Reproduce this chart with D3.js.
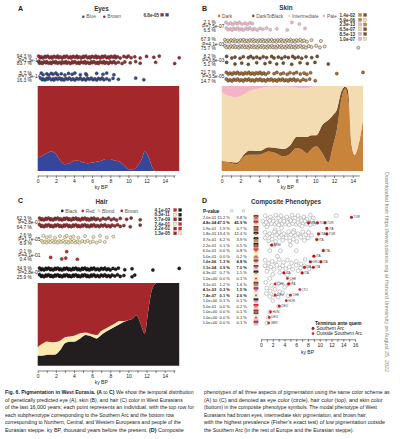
<!DOCTYPE html>
<html><head><meta charset="utf-8">
<script src="https://cdn.jsdelivr.net/npm/d3@7"></script>
<style>body{margin:0;background:#fff}svg{font-family:"Liberation Sans",Arial,sans-serif;display:block}</style>
</head><body><svg id="c" width="400" height="439"></svg>
<script>
// ---------------- DATA ----------------
const kyTicks = d3.range(0, 16);
const kyTicksD = d3.range(0, 17);
// Eyes
const eyeCats = ["Blue", "Brown"];
const eyeKy = [0,0.5,1,1.5,2,2.5,3,3.5,4,4.5,5,5.5,6,6.5,7,7.5,8,8.5,9,9.5,10,10.5,11,11.5,11.8,12.2,12.6,13,14,15,15.6];
const eyeBlue = [0.16,0.18,0.21,0.23,0.20,0.12,0.08,0.09,0.12,0.12,0.10,0.09,0.10,0.11,0.12,0.14,0.14,0.12,0.11,0.07,0.02,0.02,0.06,0.15,0.23,0.17,0.05,0,0,0,0];
const brownEyeSA = [0.1,0.3,0.4,0.6,0.8,0.9,1.1,1.3,1.5,1.6,1.8,2.0,2.2,2.3,2.5,2.7,2.9,3.0,3.2,3.4,3.6,3.7,3.9,4.1,4.3,4.4,4.6,4.8,5.0,5.1,5.3,5.5,5.7,5.8,6.0,6.2,6.4,6.5,6.7,6.9,7.1,7.2,7.4,7.6,7.8,7.9,8.1,8.3,8.5,8.6,8.8,9.1,9.5,9.8,10.0,10.3,10.7,11.3,12.0,12.8,13.4,15.6];
const brownEyeNS = [0.1,0.2,0.4,0.5,0.7,0.9,1.0,1.2,1.4,1.5,1.7,1.9,2.0,2.2,2.4,2.6,2.7,2.9,3.1,3.2,3.4,3.6,3.8,3.9,4.1,4.3,4.5,4.6,4.8,5.0,5.2,5.3,5.5,5.7,5.9,6.0,6.2,6.4,6.6,6.7,6.9,7.1,7.3,7.4,7.6,7.8,8.0,8.2,8.4,8.6,8.9,9.3,9.6,10.2,10.8,11.3,13.0,15.1];
const blueEyeSA = [0.4,0.6,1.0,1.2,1.5,1.7,2.0,2.2,2.6,3.0,3.4,3.8,4.1,4.7,5.3,5.4,6.5,7.2,7.6,8.4];
const blueEyeNS = [0.3,0.5,0.6,0.8,1.0,1.1,1.3,1.5,1.7,1.8,2.0,2.2,2.4,2.6,2.7,2.9,3.1,3.3,3.5,3.7,3.9,4.1,4.3,4.5,4.7,4.9,5.1,5.3,5.5,5.7,5.9,6.1,6.3,6.5,6.7,6.9,7.1,7.3,7.6,7.9,8.3,8.9,10.8,11.7];
const eyeLabels = [["94.3 %","P=7.3e-14","83.7 %"],["5.7 %","P=7.3e-14","16.3 %"]];
const eyePvals = ["6.8e-05"];
const eyePairs = [["Brown","Blue"]];
// Skin
const skinCats = ["Dark","DarkToBlack","Intermediate","Pale"];
const skinKy = [0,0.8,1.6,2.5,3,4,5,5.8,6.6,7.3,8,8.6,9.1,9.6,10.1,10.8,11.4,11.9,12.3,12.8,13.2,13.5,13.9,14.2,14.7,15.1];
const skinDark = [0.12,0.10,0.08,0.18,0.19,0.19,0.23,0.21,0.17,0.20,0.27,0.25,0.21,0.26,0.29,0.20,0.10,0.30,0.48,0.85,0.97,0.85,0.30,0.19,0.35,0.60];
const skinDTB = [0.005,0.01,0.02,0.03,0.05,0.045,0.05,0.06,0.09,0.10,0.13,0.15,0.19,0.16,0.13,0.35,0.50,0.36,0.24,0.09,0.02,0.10,0,0,0,0];
const skinPale = [0.07,0.12,0.13,0.09,0.06,0.03,0.01,0.01,0.01,0.01,0.02,0.03,0.03,0.01,0,0,0,0,0,0,0,0,0,0,0,0];
const paleSA = [0.46,0.71,0.96,1.18,1.42,1.67,1.88,2.17,2.49,2.74,3.02,3.27,7.5,8.3];
const paleNS = [0.5,0.7,0.9,1.1,1.3,1.5,1.7,1.9,2.1,2.3,2.6,2.8,3.0,3.3,3.5,3.8,4.1,4.4,4.8,5.2,5.9,7.0,8.9];
const interSA = [0.35,0.5,0.7,0.85,1.0,1.2,1.35,1.5,1.7,1.85,2.0,2.2,2.35,2.5,2.7,2.85,3.0,3.2,3.35,3.5,3.7,3.85,4.0,4.2,4.35,4.5,4.7,4.85,5.0,5.2,5.35,5.5,5.7,5.85,6.0,6.2,6.35,6.5,6.7,6.85,7.0,7.2,7.35,7.5,7.7,7.85,8.0,8.2,8.4,8.6,8.8,9.1,9.6,10.6];
const interNS = [0.35,0.5,0.7,0.85,1.0,1.2,1.35,1.5,1.7,1.85,2.0,2.2,2.35,2.5,2.7,2.85,3.0,3.2,3.35,3.5,3.7,3.85,4.0,4.2,4.35,4.5,4.7,4.85,5.0,5.2,5.35,5.5,5.7,5.85,6.0,6.2,6.35,6.5,6.7,6.85,7.0,7.2,7.35,7.5,7.7,7.85,8.0,8.2,8.4,8.6,8.8,9.0,9.3,9.6,10.1,10.5,11.0,14.6];
const dtbSA = [0.53,1.07,1.42,1.96,2.31,2.84,3.10,3.38,3.74,4.09,4.44,4.80,5.34,5.59,6.05,6.41,6.76,7.12,7.59,7.83,8.18,8.55,9.01,9.62,10.21];
const dtbNS = [0.53,1.42,2.14,2.84,3.74,4.63,5.16,5.88,6.58,7.48,8.37,9.15,9.97,11.39];
const darkSA = [0.5,0.7,0.9,1.1,1.3,1.5,1.7,1.9,2.1,2.3,2.5,2.7,2.9,3.1,3.3,3.5,3.7,3.9,4.1,4.3,4.5,4.7,5.0,5.6,5.9,6.3,6.6,7.0,7.3,7.7,8.0,8.4,8.8,9.1,9.5,12.3,15.1];
const darkNS = [0.5,0.7,0.9,1.1,1.3,1.5,1.7,1.9,2.1,2.3,2.5,2.7,2.9,3.1,3.3,3.5,3.7,3.9,4.1,4.3,4.5,4.7,4.9,5.1,5.3,5.5,5.7,5.9,6.1,6.3,6.5,6.7,6.9,7.1,7.3,7.5,7.7,7.9,8.1,8.4,8.7,9.0,9.4,10.0];
const skinLabels = [["2.1 %","P=7.5e-07","6.5 %"],["67.9 %","P=4.1e-03","75.7 %"],["8.2 %","P=3.8e-03","5.1 %"],["21.7 %","P=3.5e-05","14.7 %"]];
const skinPvals = ["1.4e-02","5.9e-06","2.3e-13","6.5e-07","8.5e-13","1.0e-07"];
const skinPairs = [["Dark","DarkToBlack"],["Dark","Intermediate"],["Pale","Dark"],["Intermediate","DarkToBlack"],["Pale","DarkToBlack"],["Pale","Intermediate"]];
// Hair
const hairCats = ["Black","Red","Blond","Brown"];
const hairKy = [0,0.5,1,1.8,2.5,3,3.5,4,4.7,5.3,6,6.5,7,7.5,8,8.5,9,9.5,10,10.5,10.9,11.3,11.8,12.2,12.6,13.1,14,15,15.6];
const hairBlack = [0.12,0.12,0.13,0.13,0.19,0.27,0.29,0.29,0.33,0.37,0.35,0.33,0.37,0.41,0.44,0.47,0.50,0.53,0.55,0.57,0.61,0.52,0.39,0.67,0.92,1,1,1,1];
const hairRed = [0.004,0.004,0.004,0.004,0.004,0.004,0.004,0.003,0.002,0,0,0,0,0,0,0,0,0,0,0,0,0,0,0,0,0,0,0,0];
const hairBlond = [0.10,0.14,0.16,0.15,0.11,0.07,0.06,0.07,0.06,0.03,0.03,0.04,0.05,0.04,0.04,0.04,0.04,0.01,0,0,0,0,0,0,0,0,0,0,0];
const brownHairSA = [0.2,0.4,0.5,0.7,0.9,1.0,1.2,1.4,1.5,1.7,1.9,2.0,2.2,2.4,2.5,2.7,2.9,3.0,3.2,3.4,3.5,3.7,3.9,4.0,4.2,4.4,4.5,4.7,4.9,5.0,5.2,5.4,5.5,5.7,5.9,6.0,6.2,6.4,6.6,6.9,7.2,7.5,7.8,8.1,8.4,8.7,9.1,9.8,10.3,11.3];
const brownHairNS = [0.2,0.4,0.5,0.7,0.9,1.0,1.2,1.4,1.5,1.7,1.9,2.0,2.2,2.4,2.5,2.7,2.9,3.0,3.2,3.4,3.5,3.7,3.9,4.0,4.2,4.4,4.5,4.7,4.9,5.0,5.2,5.4,5.5,5.7,5.9,6.0,6.2,6.4,6.6,6.8,7.0,7.2,7.4,7.6,7.8,8.0,8.2,8.5,8.8,9.1,9.5,10.2,11.3];
const blondSA = [0.62,0.99,1.36,1.91,2.46,3.01,3.20,3.64,3.92,4.48,5.22,6.13,6.87,7.61,8.34];
const blondNS = [0.44,0.6,0.8,1.0,1.2,1.4,1.6,1.8,2.0,2.2,2.4,2.6,2.8,3.0,3.2,3.4,3.6,3.8,4.0,4.2,4.4,4.6,4.9,5.2,5.5,5.8,6.1,6.5,6.87,7.4];
const redSA = [3.2];
const redNS = [1.43,2.65,3.09,4.37];
const blackSA = [0.2,0.4,0.5,0.7,0.9,1.0,1.2,1.4,1.5,1.7,1.9,2.0,2.2,2.4,2.5,2.7,2.9,3.0,3.2,3.4,3.5,3.7,3.9,4.0,4.2,4.4,4.5,4.7,4.9,5.0,5.2,5.4,5.5,5.7,5.9,6.0,6.2,6.4,6.6,6.8,7.0,7.2,7.4,7.6,7.8,8.0,8.3,8.6,8.9,9.6,10.4,12.7,15.6];
const blackNS = [0.2,0.4,0.5,0.7,0.9,1.0,1.2,1.4,1.5,1.7,1.9,2.0,2.2,2.4,2.5,2.7,2.9,3.0,3.2,3.4,3.5,3.7,3.9,4.0,4.2,4.4,4.5,4.7,4.9,5.0,5.2,5.4,5.5,5.7,5.9,6.0,6.2,6.4,6.6,6.8,7.0,7.2,7.4,7.6,7.8,8.0,8.2,8.5,8.8,9.1,9.5,10.4,10.7];
const hairLabels = [["62.3 %","P=2.8e-01","64.7 %"],["2.6 %","P=1.7e-05","8.9 %"],["0.1 %","P=4.1e-01","0.4 %"],["34.9 %","P=2.8e-05","25.9 %"]];
const hairPvals = ["4.1e-02","6.3e-11","5.7e-09","7.4e-01","2.2e-01","1.3e-05"];
const hairPairs = [["Red","Black"],["Blond","Black"],["Brown","Black"],["Blond","Red"],["Brown","Red"],["Brown","Blond"]];
// Composite phenotypes
const compP = ["2.0e-01","4.8e-04","1.9e-01","1.8e-01","3.7e-01","2.2e-01","6.5e-01","5.0e-01","1.0e-06","1.1e-04","6.3e-02","1.0e+00","3.1e-01","4.1e-03","7.4e-07","1.0e+00","5.0e-01","1.0e+00","1.0e+00","1.0e+00"];
const compSA = ["15.2 %","47.5 %","1.9 %","13.4 %","6.2 %","0.1 %","0.0 %","0.0 %","1.3 %","3.9 %","0.7 %","0.0 %","1.2 %","0.3 %","0.1 %","0.1 %","0.0 %","0.0 %","0.0 %","0.0 %"];
const compNS = ["9.8 %","45.9 %","0.7 %","12.4 %","3.9 %","0.5 %","0.8 %","0.2 %","4.8 %","7.0 %","1.5 %","0.1 %","1.6 %","1.5 %","2.6 %","0.1 %","0.2 %","0.1 %","0.1 %","0.1 %"];
const compHair = ["Brown","Brown","Brown","Black","Black","Black","Red","Blond","Brown","Brown","Black","Blond","Brown","Brown","Blond","Black","Red","Brown","Blond","Brown"];
const compSkin = ["Dark","Intermediate","DarkToBlack","Intermediate","Dark","DarkToBlack","Intermediate","Dark","Intermediate","Pale","Intermediate","Intermediate","Dark","Pale","Intermediate","Pale","Pale","DarkToBlack","Pale","Pale"];
const compEye = ["Brown","Brown","Brown","Brown","Brown","Brown","Brown","Brown","Blue","Brown","Blue","Brown","Blue","Blue","Blue","Blue","Brown","Blue","Brown","Blue"];
const compCircles = [
  [0.7,1.2,1.6,2.0,2.5,3.0,3.4,3.9,4.4,4.9,5.3,5.8,6.3,6.8,7.3,7.8,8.4,8.9,12.8],
  [0.3,0.6,0.9,1.2,1.5,1.8,2.1,2.4,2.7,3.0,3.3,3.6,3.9,4.2,4.5,4.8,5.1,5.4,5.7,6.0,6.3,6.6,6.9,7.2,7.5,7.8,8.1,8.4,8.7,9.0],
  [1.0,2.4,3.5,5.6,7.0],
  [0.7,1.1,1.5,1.9,2.3,2.7,3.1,3.5,3.9,4.3,4.7,5.1,5.5,5.9,6.3,6.7,7.1,7.6,8.1,8.6],
  [0.7,1.3,1.9,2.5,3.1,3.7,4.3,4.9,5.5,6.1,6.8,7.4,8.0],
  [2.2,5.0],
  [1.5,3.3,6.0],
  [2.8],
  [0.7,1.3,1.9,2.5,3.1,3.8,4.5,5.2,6.0,6.8,7.5],
  [0.7,1.2,1.7,2.2,2.7,3.2,3.7,4.2,4.8,5.4,6.0,6.7,7.4,8.2],
  [1.0,2.0,3.2,4.5,6.3],
  [1.5],
  [0.8,1.8,3.0,4.2,5.1],
  [1.0,1.6,2.4,3.2,4.0],
  [0.9,1.5,2.2,2.9,3.7,4.6],
  [2.0],[3.0],[1.5],[1.2],[1.0]
];
const tqRow = [0,1,1,1,2,3,3,4,5,6,7,8,8,9,9,10,10,11,12,12,13,14,14,15,16,17,18,19];
const tqKy  = [15.4,8.1,9.6,10.9,11.2,9.8,11.2,9.5,1.8,10.6,9.0,8.4,10.2,7.4,8.9,3.9,7.0,4.5,2.4,4.7,6.6,5.0,2.4,4.3,3.1,1.6,1.4,1.3];
const tqLab = ["TUR","ITA","TUR","TUR","ITA","ITA","TUR","ITA","ARM","ITA","ITA","GRC","ITA","ITA","ITA","ITA","ITA","CHE","CHE","ITA","LTU","CHE","DEU","HUN","DEU","HUN","DEU","GBR"];
const tqSA  = [1,1,1,1,1,1,1,1,1,1,1,1,1,1,1,1,1,0,0,1,0,0,0,0,0,0,0,0];

// ---------------- COLOURS ----------------
const col = {
  eye: {Blue:"#36479b", Brown:"#a4282b"},
  skin: {Dark:"#c8843a", DarkToBlack:"#7b4f26", Intermediate:"#f3dcb2", Pale:"#f3b4c7"},
  hair: {Black:"#221e1f", Red:"#e2231a", Blond:"#f8eab0", Brown:"#a4282b"}
};
const dotStroke = {Pale:"#999", Intermediate:"#333", Blond:"#666"};

// ---------------- HELPERS ----------------
const svg = d3.select("#c");
function txt(g, x, y, s, o = {}) {
  return g.append("text").attr("x", x).attr("y", y).text(s)
    .attr("font-size", o.size || 5)
    .attr("font-weight", o.bold ? "bold" : null)
    .attr("text-anchor", o.anchor || "start")
    .attr("fill", o.fill || "#222");
}
const jit = [-0.9, 0.7, -0.2, 1.0, -0.6, 0.3];
function dots(g, arr, x, y, fill, stroke) {
  g.append("g").selectAll("circle").data(arr).join("circle")
    .attr("cx", d => x(d)).attr("cy", (d, i) => y + jit[i % jit.length])
    .attr("r", 1.55).attr("fill", fill).attr("stroke", stroke || "#333").attr("stroke-width", 0.45);
}
function group(g, x, ySA, yNS, labels, arrSA, arrNS, fill, stroke) {
  const x0 = x(0);
  txt(g, x0 - 6, ySA + 0.5, labels[0], {anchor: "end", size: 4.8});
  txt(g, x0 - 19.5, (ySA + yNS) / 2 + 1.8, labels[1], {size: 4.8});
  txt(g, x0 - 6, yNS + 2.8, labels[2], {anchor: "end", size: 4.8});
  dots(g, arrSA, x, ySA, fill, stroke);
  dots(g, arrNS, x, yNS, fill, stroke);
}
function stackArea(g, ky, cats, series, colors, x, y0, y1) {
  const data = ky.map((k, i) => {
    const o = {ky: k};
    cats.forEach(c => o[c] = series[c][i]);
    return o;
  });
  const y = d3.scaleLinear().domain([0, 1]).range([y0, y1]);
  const st = d3.stack().keys(cats)(data);
  const ar = d3.area().x(d => x(d.data.ky)).y0(d => y(d[0])).y1(d => y(d[1])).curve(d3.curveMonotoneX);
  g.append("g").selectAll("path").data(st).join("path").attr("d", ar).attr("fill", d => colors[d.key]);
}
function axis(g, x, maxKy, yAx, ticks) {
  const xa = x.copy().domain([0, maxKy]).range([x(0), x(maxKy)]);
  const a = g.append("g").attr("transform", `translate(0,${yAx})`)
    .call(d3.axisBottom(xa).tickValues(ticks.filter(t => t <= maxKy)).tickSizeInner(2.5).tickSizeOuter(0).tickPadding(1.5)
      .tickFormat(d => d % 2 === 0 ? d : ""));
  a.select(".domain").attr("stroke", "#333").attr("stroke-width", 0.6);
  a.selectAll(".tick line").attr("stroke", "#333").attr("stroke-width", 0.6);
  a.selectAll("text").attr("font-size", 5).attr("fill", "#222").attr("font-family", "Liberation Sans, Arial, sans-serif");
  return a;
}
function legend(g, items, colors, y, xs, strokes) {
  items.forEach((c, i) => {
    g.append("circle").attr("cx", xs[i]).attr("cy", y - 1.6).attr("r", 1.3).attr("fill", colors[c])
      .attr("stroke", (strokes && strokes[c]) || "none").attr("stroke-width", 0.3);
    txt(g, xs[i] + 3, y, c, {size: 4.8, fill: "#555"});
  });
}
function pvalBox(g, pvals, pairs, colors, x, ys, sqx) {
  pvals.forEach((p, i) => {
    txt(g, x, ys[i] + 1.7, p, {size: 4.6, bold: true, fill: "#333"});
    pairs[i].forEach((c, j) => {
      g.append("rect").attr("x", sqx + j * 5).attr("y", ys[i] - 1.6).attr("width", 3.2).attr("height", 3.2)
        .attr("fill", colors[c]).attr("stroke", "#777").attr("stroke-width", 0.25);
    });
  });
}

// ---------------- PANEL A: Eyes ----------------
const gA = svg.append("g");
const xA = d3.scaleLinear().domain([0, 14]).range([37.7, 164.7]);
txt(gA, 18, 10.5, "A", {size: 7, bold: true});
txt(gA, 101.5, 11, "Eyes", {size: 6.3, bold: true, anchor: "middle", fill: "#333"});
legend(gA, eyeCats, col.eye, 18.3, [83.3, 104.3]);
pvalBox(gA, eyePvals, eyePairs, col.eye, 143.5, [14.8], 160.5);
group(gA, xA, 57, 62.5, eyeLabels[0], brownEyeSA, brownEyeNS, col.eye.Brown);
group(gA, xA, 74, 79, eyeLabels[1], blueEyeSA, blueEyeNS, col.eye.Blue);
stackArea(gA, eyeKy, eyeCats, {Blue: eyeBlue, Brown: eyeBlue.map(v => 1 - v)}, col.eye, xA, 171, 86);
axis(gA, xA, 15.1, 175.5, kyTicks);
txt(gA, xA(7), 189, "ky BP", {size: 5, anchor: "middle"});

// ---------------- PANEL B: Skin ----------------
const gB = svg.append("g");
const xB = d3.scaleLinear().domain([0, 14]).range([221.7, 352.7]);
txt(gB, 202, 10.5, "B", {size: 7, bold: true});
txt(gB, 286, 10, "Skin", {size: 6.3, bold: true, anchor: "middle", fill: "#333"});
legend(gB, skinCats, col.skin, 17.5, [219, 253.3, 289, 324]);
pvalBox(gB, skinPvals, skinPairs, col.skin, 339.5, [15, 19.8, 24.5, 29.2, 34, 38.8], 358.5);
group(gB, xB, 23.3, 29, skinLabels[0], paleSA, paleNS, col.skin.Pale, dotStroke.Pale);
group(gB, xB, 40.7, 46.7, skinLabels[1], interSA, interNS, col.skin.Intermediate, dotStroke.Intermediate);
group(gB, xB, 57.3, 63.3, skinLabels[2], dtbSA, dtbNS, col.skin.DarkToBlack);
group(gB, xB, 73.3, 80, skinLabels[3], darkSA, darkNS, "#b06f2c");
const skinInter = skinKy.map((k, i) => 1 - skinDark[i] - skinDTB[i] - skinPale[i]);
stackArea(gB, skinKy, skinCats, {Dark: skinDark, DarkToBlack: skinDTB, Intermediate: skinInter, Pale: skinPale}, col.skin, xB, 171, 86);
axis(gB, xB, 14.7, 175.5, kyTicks);
txt(gB, xB(7), 189, "ky BP", {size: 5, anchor: "middle"});

// ---------------- PANEL C: Hair ----------------
const gC = svg.append("g");
const xC = d3.scaleLinear().domain([0, 14]).range([37.7, 164.7]);
txt(gC, 18, 202.5, "C", {size: 7, bold: true});
txt(gC, 101.5, 204, "Hair", {size: 6.3, bold: true, anchor: "middle", fill: "#333"});
legend(gC, hairCats, col.hair, 212.5, [62.3, 82.7, 99, 121.7], {Blond: "#999"});
pvalBox(gC, hairPvals, hairPairs, col.hair, 154.5, [210, 214.7, 219.3, 224, 228.6, 233.3], 173.5);
group(gC, xC, 219, 225.7, hairLabels[0], brownHairSA, brownHairNS, col.hair.Brown);
group(gC, xC, 236.7, 241.7, hairLabels[1], blondSA, blondNS, col.hair.Blond, dotStroke.Blond);
group(gC, xC, 252.5, 258.3, hairLabels[2], redSA, redNS, col.hair.Red);
group(gC, xC, 269, 275.7, hairLabels[3], blackSA, blackNS, col.hair.Black, "#000");
const hairBrown = hairKy.map((k, i) => 1 - hairBlack[i] - hairRed[i] - hairBlond[i]);
stackArea(gC, hairKy, hairCats, {Black: hairBlack, Red: hairRed, Blond: hairBlond, Brown: hairBrown}, col.hair, xC, 365.7, 283);
axis(gC, xC, 15.1, 370.5, kyTicks);
txt(gC, xC(7), 384, "ky BP", {size: 5, anchor: "middle"});

// ---------------- PANEL D: Composite ----------------
const gD = svg.append("g");
const xD = d3.scaleLinear().domain([0, 16]).range([261, 355]);
const rowY = i => 217.3 + i * 5.56;
txt(gD, 202, 202.5, "D", {size: 7, bold: true});
txt(gD, 286, 204, "Composite Phenotypes", {size: 6.3, bold: true, anchor: "middle", fill: "#333"});
txt(gD, 203, 212.5, "P-value", {size: 4.6, bold: true});
[231.7, 243.3].forEach(cx => gD.append("circle").attr("cx", cx).attr("cy", 210.8).attr("r", 1.3).attr("fill", "#fff").attr("stroke", "#888").attr("stroke-width", 0.5));
compP.forEach((p, i) => {
  const b = +p < 0.01;
  const y = rowY(i) + 1.5;
  txt(gD, 202.7, y, p, {size: 4.0, bold: b});
  txt(gD, 229.8, y, compSA[i], {size: 4.0, bold: b, anchor: "end"});
  txt(gD, 246.8, y, compNS[i], {size: 4.0, bold: b, anchor: "end"});
  const s = gD.append("g").attr("transform", `translate(256,${rowY(i)})`);
  s.append("rect").attr("x", -2.4).attr("y", -2.4).attr("width", 4.8).attr("height", 2.4).attr("fill", col.hair[compHair[i]]);
  s.append("rect").attr("x", -2.4).attr("y", 0).attr("width", 4.8).attr("height", 2.4).attr("fill", col.skin[compSkin[i]]);
  s.append("circle").attr("r", 1.0).attr("fill", col.eye[compEye[i]]).attr("stroke", "#fff").attr("stroke-width", 0.3);
});
// scatter of individuals
const cj = [-1.6, 1.4, -0.3, 2.0, -2.2, 0.8];
compCircles.forEach((arr, r) => {
  gD.append("g").selectAll("circle").data(arr).join("circle")
    .attr("cx", d => xD(d)).attr("cy", (d, i) => rowY(r) + (arr.length > 3 ? cj[i % cj.length] : 0))
    .attr("r", 1.9).attr("fill", "#fff").attr("stroke", "#888").attr("stroke-width", 0.45);
});
const tq = tqRow.map((r, i) => ({r, ky: tqKy[i], lab: tqLab[i], sa: tqSA[i]}));
const tqG = gD.append("g");
tqG.selectAll("circle").data(tq).join("circle")
  .attr("cx", d => xD(d.ky)).attr("cy", d => rowY(d.r)).attr("r", 1.4)
  .attr("fill", d => d.sa ? "#c3161c" : "#d9232a").attr("stroke", d => d.sa ? "#700" : "none").attr("stroke-width", 0.3);
tqG.selectAll("text").data(tq).join("text")
  .attr("x", d => xD(d.ky) + 2.0).attr("y", d => rowY(d.r) + 1.1).text(d => d.lab)
  .attr("font-size", 3.2).attr("fill", "#444");
axis(gD, xD, 16, 339.3, kyTicksD);
txt(gD, 307.5, 353.5, "ky BP", {size: 5, anchor: "middle"});
// legend
txt(gD, 315, 324.5, "Terminus ante quem", {size: 4.8, bold: true});
gD.append("circle").attr("cx", 313).attr("cy", 328.4).attr("r", 1.3).attr("fill", "#c3161c").attr("stroke", "#700").attr("stroke-width", 0.3);
txt(gD, 316.5, 330.2, "Southern Arc", {size: 4.8});
gD.append("circle").attr("cx", 313).attr("cy", 333.6).attr("r", 1.3).attr("fill", "#d9232a");
txt(gD, 316.5, 335.4, "Outside Southern Arc", {size: 4.8});

// ---------------- side note & caption ----------------
svg.append("text").attr("transform", "translate(385,172) rotate(90)")
  .text("Downloaded from https://www.science.org at Harvard University on August 25, 2022")
  .attr("font-size", 5).attr("fill", "#888").attr("textLength", 200).attr("lengthAdjust", "spacingAndGlyphs");

const capLeft = [
  [["Fig. 6. Pigmentation in West Eurasia. (A ", 1], ["to", 0], [" C)", 1], [" We show the temporal distribution", 0]],
  [["of genetically predicted eye (A), skin (B), and hair (C) color in West Eurasians", 0]],
  [["of the last 16,000 years; each point represents an individual, with the top row for", 0]],
  [["each subphenotype corresponding to the Southern Arc and the bottom row", 0]],
  [["corresponding to Northern, Central, and Western Europeans and people of the", 0]],
  [["Eurasian steppe. ky BP, thousand years before the present. ", 0], ["(D)", 1], [" Composite", 0]]
];
const capRight = [
  [["phenotypes of all three aspects of pigmentation using the same color scheme as", 0]],
  [["(A) to (C) and denoted as eye color (circle), hair color (top), and skin color", 0]],
  [["(bottom) in the composite phenotype symbols. The modal phenotype of West", 0]],
  [["Eurasians had brown eyes, intermediate skin pigmentation, and brown hair,", 0]],
  [["with the highest prevalence (Fisher\u2019s exact test) of low pigmentation outside", 0]],
  [["the Southern Arc (in the rest of Europe and the Eurasian steppe).", 0]]
];
const capLenL = [189, 178, 189, 169, 176, 179];
const capLenR = [186, 179, 173, 163, 181, 150];
function caption(lines, x, lens) {
  lines.forEach((ln, i) => {
    const t = svg.append("text").attr("x", 0).attr("y", 0).attr("font-size", 5.6).attr("fill", "#222");
    ln.forEach(([s, b]) => t.append("tspan").text(s).attr("font-weight", b ? "bold" : null));
    const w = t.node().getComputedTextLength();
    t.attr("transform", `translate(${x},${394 + i * 7.5}) scale(${lens[i] / w},1)`);
  });
}
caption(capLeft, 5, capLenL);
caption(capRight, 204, capLenR);
</script></body></html>
